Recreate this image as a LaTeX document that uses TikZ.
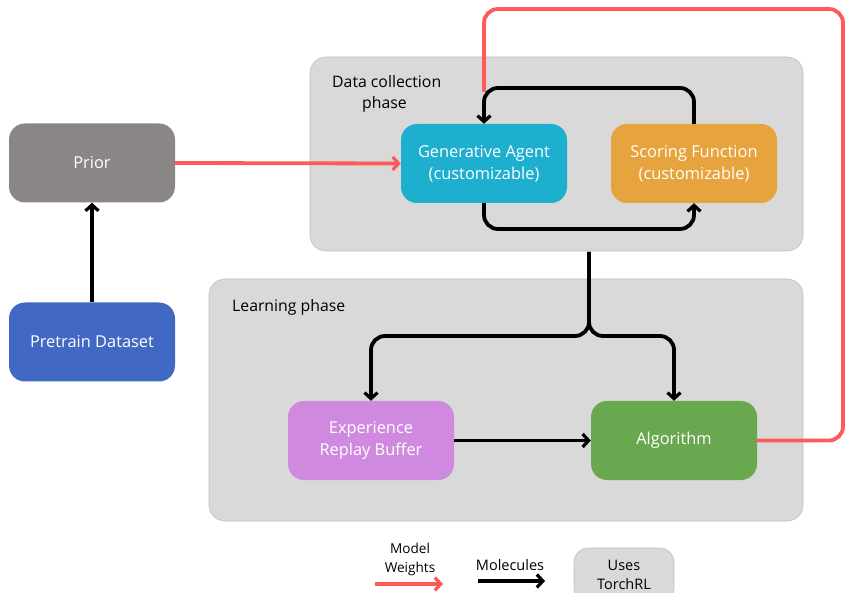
\documentclass[tikz,border=0pt]{standalone}
\usepackage{fontspec}
\setmainfont{Open Sans}
\usetikzlibrary{arrows.meta, positioning}
\definecolor{PanelGray}{HTML}{D9D9D9}
\definecolor{PriorGray}{HTML}{8A8685}
\definecolor{DataBlue}{HTML}{4169C4}
\definecolor{AgentCyan}{HTML}{1EAFCF}
\definecolor{ScoreOrange}{HTML}{E6A33E}
\definecolor{BufferPink}{HTML}{CF8ADF}
\definecolor{AlgoGreen}{HTML}{6AA84F}
\definecolor{WeightRed}{HTML}{FF5A5A}

\begin{document}
\begin{tikzpicture}[x=1pt, y=-1pt,
  block/.style={rounded corners=16pt, minimum width=166pt, minimum height=79pt,
    text=white, align=center, font=\fontsize{16.4}{22}\selectfont, inner sep=0pt},
  panel/.style={fill=PanelGray, draw=black!25, line width=0.6pt, rounded corners=16pt, inner sep=0pt},
  tag/.style={font=\fontsize{15.8}{21}\selectfont, align=left, inner sep=0pt},
  flow/.style={draw=black, line width=3.8pt, rounded corners=14pt,
    -{Straight Barb[length=6pt, width=13pt, line width=3.2pt]}},
  weights/.style={draw=WeightRed, line width=3.8pt, rounded corners=14pt}]
\clip (0,0) rectangle (846,593);
% Phases
\node[panel, minimum width=493pt, minimum height=194pt] (collect) at (556.5,154) {};
\node[panel, minimum width=594pt, minimum height=242pt] (learn) at (506,400) {};
\node[tag, anchor=north west] (collectlbl) at (332,75) {Data collection\\\hspace*{30pt}phase};
\node[tag, anchor=north west] (learnlbl) at (232,299) {Learning phase};
% Blocks
\node[block, fill=PriorGray] (prior) at (92,163) {Prior};
\node[block, fill=DataBlue] (pretrain) at (92,342) {Pretrain Dataset};
\node[block, fill=AgentCyan] (agent) at (484,163.5) {Generative Agent\\(customizable)};
\node[block, fill=ScoreOrange] (score) at (694,163.5) {Scoring Function\\(customizable)};
\node[block, fill=BufferPink] (buffer) at (371,440.5) {Experience\\Replay Buffer};
\node[block, fill=AlgoGreen] (algo) at (674,440.5) {Algorithm};
% Model weights
\coordinate (merge) at (484,92);
\path[weights] (algo.east) -| (843,9) -| (merge);
\draw[weights, -{Straight Barb[length=6pt, width=13pt, line width=3.2pt]}] (prior.east) -- (agent.west);
% Molecules
\draw[flow] (pretrain.north) -- (prior.south);
\draw[flow] (score.north) -- (694,88) -| (agent.north);
\draw[flow] (agent.south) -- (484,229) -| (score.south);
\coordinate (split) at (589,252);
\draw[flow] (split) |- (371,336) -- (buffer.north);
\draw[flow] (split) |- (674,336) -- (algo.north);
\draw[flow] (buffer.east) -- (algo.west);
% Legend
\node[tag, align=center, font=\fontsize{13.6}{19}\selectfont] (weightlbl) at (410,559) {Model\\Weights};
\coordinate (w1) at (375,584);
\coordinate (w2) at (443,584);
\draw[weights, -{Straight Barb[length=6pt, width=13pt, line width=3.2pt]}] (w1) -- (w2);
\node[tag, font=\fontsize{14.5}{19}\selectfont] (mollbl) at (510,565) {Molecules};
\coordinate (m1) at (478,581);
\coordinate (m2) at (545,581);
\draw[flow] (m1) -- (m2);
\node[panel, minimum width=100pt, minimum height=54pt, rounded corners=14pt,
  font=\fontsize{14.5}{19}\selectfont, align=center] (torchrl) at (624,575) {Uses\\TorchRL};
\end{tikzpicture}
\end{document}
